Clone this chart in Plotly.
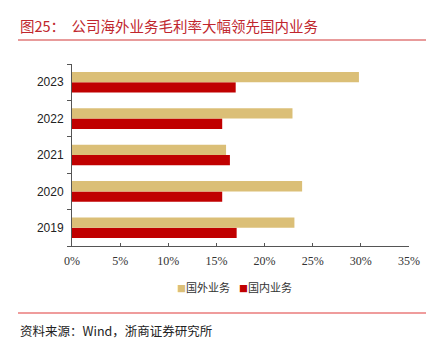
import plotly.graph_objects as go

years = ["2019", "2020", "2021", "2022", "2023"]
overseas = [23.1, 23.9, 16.0, 22.9, 29.8]
domestic = [17.1, 15.6, 16.4, 15.6, 17.0]
x_ticks = [0, 5, 10, 15, 20, 25, 30, 35]
x_tick_labels = [f"{v}%" for v in x_ticks]
series_names = ["国外业务", "国内业务"]
title_text = "图25：  公司海外业务毛利率大幅领先国内业务"
source_text = "资料来源：Wind，浙商证券研究所"

C_OVER = "#DBBF77"
C_DOM = "#C00000"

W, H = 426, 353
L, R, T, B = 72, 17, 64, 107
PW, PH = W - L - R, H - T - B

def px(x):
    return (x - L) / PW

def py(y):
    return (H - B - y) / PH

fig = go.Figure()
fig.add_trace(go.Bar(y=years, x=domestic, orientation="h", name=series_names[1],
                     marker=dict(color=C_DOM, line=dict(width=0))))
fig.add_trace(go.Bar(y=years, x=overseas, orientation="h", name=series_names[0],
                     marker=dict(color=C_OVER, line=dict(width=0))))

fig.update_layout(
    width=W, height=H,
    margin=dict(l=L, r=R, t=T, b=B, autoexpand=False),
    paper_bgcolor="white", plot_bgcolor="white",
    barmode="group", bargap=0.434, bargroupgap=0,
    showlegend=False,
    xaxis=dict(range=[0, 35], tickvals=x_ticks, ticktext=x_tick_labels,
               automargin=False,
               showgrid=False, zeroline=False, showline=True, linecolor="#555555",
               linewidth=1, ticks="inside", ticklen=3, tickcolor="#555555",
               tickfont=dict(family="Liberation Serif", size=12, color="#333333"),
               ticklabelstandoff=4),
    yaxis=dict(categoryorder="array", categoryarray=years,
               automargin=False,
               showgrid=False, zeroline=False, showline=True, linecolor="#555555",
               linewidth=1, ticks="outside", ticklen=4, tickcolor="#555555",
               tickson="boundaries",
               tickfont=dict(family="Liberation Sans", size=12, color="#222222"),
               ticklabelstandoff=5),
    font=dict(family="Noto Sans CJK SC"),
)

# title
fig.add_annotation(xref="paper", yref="paper", x=px(18), y=py(25), xanchor="left",
                   yanchor="middle", text=title_text, showarrow=False,
                   font=dict(family="Noto Sans CJK SC", size=14.5, color="#C0262D"))
fig.add_shape(type="line", xref="paper", yref="paper", x0=px(18), x1=px(426),
              y0=py(40), y1=py(40), line=dict(color="#E07A7A", width=1.5))
# legend (two items)
for name, color, x0 in [(series_names[0], C_OVER, 175), (series_names[1], C_DOM, 237)]:
    fig.add_annotation(xref="paper", yref="paper", x=px(x0), y=py(287), xanchor="left",
                       yanchor="middle",
                       text=f"<span style='color:{color};font-size:9px'>■</span>{name}",
                       showarrow=False,
                       font=dict(family="Noto Sans CJK SC", size=11, color="#333333"))
# bottom line & source
fig.add_shape(type="line", xref="paper", yref="paper", x0=px(18), x1=px(426),
              y0=py(313), y1=py(313), line=dict(color="#E03A3A", width=1.2))
fig.add_annotation(xref="paper", yref="paper", x=px(18), y=py(330), xanchor="left",
                   yanchor="middle", text=source_text, showarrow=False,
                   font=dict(family="Noto Sans CJK SC", size=12.5, color="#222222"))

fig.write_html("out.html")
